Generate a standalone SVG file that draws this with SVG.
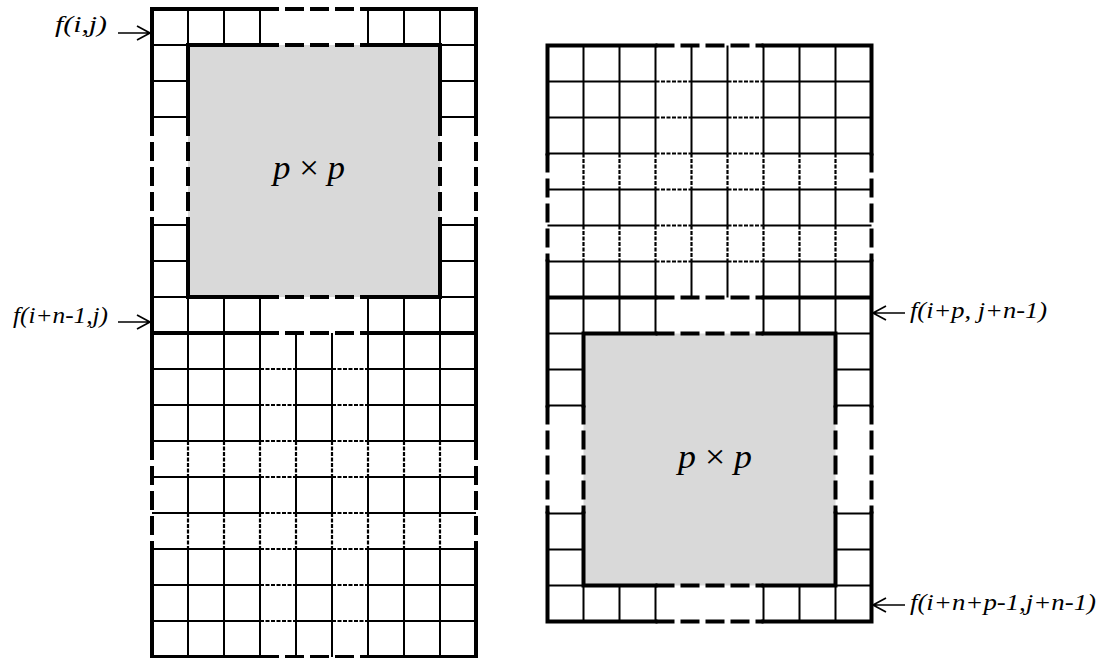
<svg xmlns="http://www.w3.org/2000/svg" width="1099" height="658" viewBox="0 0 1099 658">
<style>
.bg{fill:#fff}
.grey{fill:#d9d9d9}
.k{fill:none;stroke:#000;stroke-width:4;stroke-linecap:square}
.kd{fill:none;stroke:#000;stroke-width:4;stroke-dasharray:19 6}
.t{fill:none;stroke:#000;stroke-width:2}
.td{fill:none;stroke:#000;stroke-width:2.2;stroke-dasharray:4 1.5}
.lbl{font-family:"Liberation Serif","DejaVu Serif",serif;font-style:italic;font-size:24px;fill:#000}
.math{font-family:"Liberation Serif","DejaVu Serif",serif;font-size:33px;fill:#000}
.arr{fill:none;stroke:#000;stroke-width:1.7}
</style>
<rect class="bg" x="0" y="0" width="1099" height="658"/>
<g id="left-grid">
<rect class="grey" x="188" y="45" width="252" height="252"/>
<path class="t" d="M188 9V45M224 9V45M260 9V45M368 9V45M404 9V45M440 9V45M152 45H188M440 45H476M152 81H188M152 117H188M152 225H188M152 261H188M152 297H188M440 81H476M440 117H476M440 225H476M440 261H476M440 297H476M188 297V333M224 297V333M260 297V333M368 297V333M404 297V333M440 297V333"/>
<path class="t" d="M188 333V441M188 477V513M188 549V657M224 333V441M224 477V513M224 549V657M260 333V441M260 477V513M260 549V657M296 333V441M296 477V513M296 549V657M332 333V441M332 477V513M332 549V657M368 333V441M368 477V513M368 549V657M404 333V441M404 477V513M404 549V657M440 333V441M440 477V513M440 549V657"/>
<path class="td" d="M188 441V477M188 513V549M224 441V477M224 513V549M260 441V477M260 513V549M296 441V477M296 513V549M332 441V477M332 513V549M368 441V477M368 513V549M404 441V477M404 513V549M440 441V477M440 513V549"/>
<path class="t" d="M152 369H260M296 369H332M368 369H476M152 405H260M296 405H332M368 405H476M152 441H260M296 441H332M368 441H476M152 477H260M296 477H332M368 477H476M152 513H260M296 513H332M368 513H476M152 549H260M296 549H332M368 549H476M152 585H260M296 585H332M368 585H476M152 621H260M296 621H332M368 621H476"/>
<path class="td" d="M260 369H296M332 369H368M260 405H296M332 405H368M260 441H296M332 441H368M260 477H296M332 477H368M260 513H296M332 513H368M260 549H296M332 549H368M260 585H296M332 585H368M260 621H296M332 621H368"/>
<path class="k" d="M152 9H260M368 9H476M188 45H260M368 45H440M188 297H260M368 297H440M152 333H260M368 333H476M152 657H260M368 657H476M152 9V117M152 225V441M152 549V657M476 9V117M476 225V441M476 549V657M188 45V117M188 225V297M440 45V117M440 225V297"/>
<path class="kd" d="M260 9H368M260 45H368M260 297H368M260 333H368M260 657H368M152 117V225M476 117V225M188 117V225M440 117V225M152 441V549M476 441V549"/>
<text class="math" x="273" y="179" textLength="72" lengthAdjust="spacingAndGlyphs"><tspan font-style="italic">p</tspan> × <tspan font-style="italic">p</tspan></text>
</g>
<g id="right-grid">
<rect class="grey" x="583.5" y="333.5" width="252" height="252"/>
<path class="t" d="M583.5 45.5V153.5M583.5 189.5V225.5M583.5 261.5V297.5M619.5 45.5V153.5M619.5 189.5V225.5M619.5 261.5V297.5M655.5 45.5V153.5M655.5 189.5V225.5M655.5 261.5V297.5M691.5 45.5V153.5M691.5 189.5V225.5M691.5 261.5V297.5M727.5 45.5V153.5M727.5 189.5V225.5M727.5 261.5V297.5M763.5 45.5V153.5M763.5 189.5V225.5M763.5 261.5V297.5M799.5 45.5V153.5M799.5 189.5V225.5M799.5 261.5V297.5M835.5 45.5V153.5M835.5 189.5V225.5M835.5 261.5V297.5"/>
<path class="td" d="M583.5 153.5V189.5M583.5 225.5V261.5M619.5 153.5V189.5M619.5 225.5V261.5M655.5 153.5V189.5M655.5 225.5V261.5M691.5 153.5V189.5M691.5 225.5V261.5M727.5 153.5V189.5M727.5 225.5V261.5M763.5 153.5V189.5M763.5 225.5V261.5M799.5 153.5V189.5M799.5 225.5V261.5M835.5 153.5V189.5M835.5 225.5V261.5"/>
<path class="t" d="M547.5 81.5H655.5M691.5 81.5H727.5M763.5 81.5H871.5M547.5 117.5H655.5M691.5 117.5H727.5M763.5 117.5H871.5M547.5 153.5H655.5M691.5 153.5H727.5M763.5 153.5H871.5M547.5 189.5H655.5M691.5 189.5H727.5M763.5 189.5H871.5M547.5 225.5H655.5M691.5 225.5H727.5M763.5 225.5H871.5M547.5 261.5H655.5M691.5 261.5H727.5M763.5 261.5H871.5"/>
<path class="td" d="M655.5 81.5H691.5M727.5 81.5H763.5M655.5 117.5H691.5M727.5 117.5H763.5M655.5 153.5H691.5M727.5 153.5H763.5M655.5 189.5H691.5M727.5 189.5H763.5M655.5 225.5H691.5M727.5 225.5H763.5M655.5 261.5H691.5M727.5 261.5H763.5"/>
<path class="t" d="M583.5 297.5V333.5M619.5 297.5V333.5M655.5 297.5V333.5M763.5 297.5V333.5M799.5 297.5V333.5M835.5 297.5V333.5M547.5 333.5H583.5M835.5 333.5H871.5M547.5 369.5H583.5M547.5 405.5H583.5M547.5 513.5H583.5M547.5 549.5H583.5M547.5 585.5H583.5M835.5 369.5H871.5M835.5 405.5H871.5M835.5 513.5H871.5M835.5 549.5H871.5M835.5 585.5H871.5M583.5 585.5V621.5M619.5 585.5V621.5M655.5 585.5V621.5M763.5 585.5V621.5M799.5 585.5V621.5M835.5 585.5V621.5"/>
<path class="k" d="M547.5 45.5H655.5M763.5 45.5H871.5M547.5 297.5H655.5M763.5 297.5H871.5M583.5 333.5H655.5M763.5 333.5H835.5M583.5 585.5H655.5M763.5 585.5H835.5M547.5 621.5H655.5M763.5 621.5H871.5M547.5 45.5V153.5M547.5 261.5V405.5M547.5 513.5V621.5M871.5 45.5V153.5M871.5 261.5V405.5M871.5 513.5V621.5M583.5 333.5V405.5M583.5 513.5V585.5M835.5 333.5V405.5M835.5 513.5V585.5"/>
<path class="kd" d="M655.5 45.5H763.5M655.5 297.5H763.5M655.5 333.5H763.5M655.5 585.5H763.5M655.5 621.5H763.5M547.5 153.5V261.5M871.5 153.5V261.5M547.5 405.5V513.5M871.5 405.5V513.5M583.5 405.5V513.5M835.5 405.5V513.5"/>
<text class="math" x="678" y="468" textLength="74" lengthAdjust="spacingAndGlyphs"><tspan font-style="italic">p</tspan> × <tspan font-style="italic">p</tspan></text>
</g>
<g id="label-fij"><text class="lbl" x="55" y="32" textLength="52" lengthAdjust="spacingAndGlyphs">f(i,j)</text></g>
<g id="label-fin1j"><text class="lbl" x="13" y="323" textLength="95" lengthAdjust="spacingAndGlyphs">f(i+n-1,j)</text></g>
<g id="label-fipjn1"><text class="lbl" x="910" y="318" textLength="137" lengthAdjust="spacingAndGlyphs">f(i+p, j+n-1)</text></g>
<g id="label-finp1jn1"><text class="lbl" x="910" y="610" textLength="186" lengthAdjust="spacingAndGlyphs">f(i+n+p-1,j+n-1)</text></g>
<g id="connectors">
<path class="arr" d="M118 33H150M137 26L150 33L137 40"/>
<path class="arr" d="M118 322H150M137 315L150 322L137 329"/>
<path class="arr" d="M905 313H873M886 306L873 313L886 320"/>
<path class="arr" d="M905 605H873M886 598L873 605L886 612"/>
</g>
</svg>
